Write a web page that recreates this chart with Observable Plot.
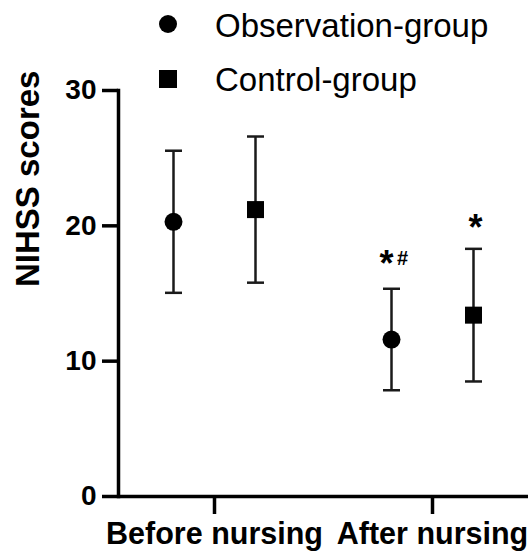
<!DOCTYPE html>
<html><head><meta charset="utf-8">
<script src="https://cdn.jsdelivr.net/npm/d3@7"></script>
<script src="https://cdn.jsdelivr.net/npm/@observablehq/plot@0.6"></script>
<style>
html,body{margin:0;padding:0;background:#fff;}
#wrap{position:relative;width:531px;height:554px;font-family:"Liberation Sans",Arial,sans-serif;}
#legend{position:absolute;left:0;top:0;pointer-events:none;}
</style></head><body>
<div id="wrap"><div id="chart"></div><svg id="legend" width="531" height="100"></svg></div>
<script>
const categories = ["Before nursing", "After nursing"];
const groups = ["Observation-group", "Control-group"];
const groupSymbols = ["circle", "square"];
const obsMean = [20.3, 11.6];
const obsSD = [5.25, 3.75];
const ctrlMean = [21.2, 13.4];
const ctrlSD = [5.4, 4.9];
const obsStar = ["", "*"];
const obsHash = ["", "#"];
const ctrlStar = ["", "*"];
const yTicks = [0, 10, 20, 30];
const yLabel = "NIHSS scores";

function rows(means, sds, group, stars, hashes) {
  return categories.map((c, i) => ({
    category: c, group, mean: means[i],
    lo: means[i] - sds[i], hi: means[i] + sds[i],
    star: stars[i], hash: hashes ? hashes[i] : ""
  }));
}
const obs = rows(obsMean, obsSD, groups[0], obsStar, obsHash);
const ctrl = rows(ctrlMean, ctrlSD, groups[1], ctrlStar, null);

const cap = {draw(ctx, size) { const r = Math.sqrt(size / Math.PI); ctx.moveTo(-r, 0); ctx.lineTo(r, 0); }};
const ink = "#000";

function groupMarks(data, dx, symbol, r) {
  return [
    Plot.ruleX(data, {x: "category", y1: "lo", y2: "hi", dx, stroke: "#1a1a1a", strokeWidth: 2.5}),
    Plot.dot(data, {x: "category", y: "hi", dx, symbol: cap, r: 8.5, fill: "none", stroke: "#1a1a1a", strokeWidth: 2.5}),
    Plot.dot(data, {x: "category", y: "lo", dx, symbol: cap, r: 8.5, fill: "none", stroke: "#1a1a1a", strokeWidth: 2.5}),
    Plot.dot(data, {x: "category", y: "mean", dx, symbol, r, fill: ink, stroke: "none"})
  ];
}

const chart = Plot.plot({
  width: 531, height: 554,
  marginTop: 90, marginBottom: 58, marginLeft: 118, marginRight: 3,
  style: {fontFamily: "'Liberation Sans', Arial, sans-serif", color: ink, background: "#fff", overflow: "visible"},
  x: {type: "point", domain: categories, padding: 0.44},
  y: {domain: [0, 30]},
  marks: [
    Plot.frame({anchor: "left", stroke: ink, strokeWidth: 3.5}),
    Plot.ruleY([0], {stroke: ink, strokeWidth: 3.5}),
    Plot.axisY({ticks: yTicks, tickSize: 16, tickPadding: 6, fontSize: 28, fontWeight: "bold", stroke: ink, strokeWidth: 3.5, label: null}),
    Plot.axisX({tickSize: 18, tickPadding: 8, fontSize: 30.5, fontWeight: "bold", stroke: ink, strokeWidth: 3.5, label: null}),
    Plot.text([yLabel], {frameAnchor: "left", rotate: -90, dx: -90, dy: -6.5, fontSize: 33, fontWeight: "bold", lineAnchor: "middle", fill: ink}),
    ...groupMarks(obs, -41, groupSymbols[0], 9),
    ...groupMarks(ctrl, 41, groupSymbols[1], 9.6),
    Plot.text(obs, {x: "category", y: "hi", text: "star", dx: -46, dy: -24, fontSize: 36, fontWeight: "bold", lineAnchor: "middle", fill: ink}),
    Plot.text(obs, {x: "category", y: "hi", text: "hash", dx: -30, dy: -30, fontSize: 20, fontWeight: "bold", lineAnchor: "middle", fill: ink}),
    Plot.text(ctrl, {x: "category", y: "hi", text: "star", dx: 43, dy: -20, fontSize: 36, fontWeight: "bold", lineAnchor: "middle", fill: ink})
  ]
});
document.getElementById("chart").appendChild(chart);

// legend
const lg = d3.select("#legend");
const legendRows = [{cy: 24, base: 37}, {cy: 79, base: 91}];
groups.forEach((g, i) => {
  const row = legendRows[i];
  const sym = d3.symbol(groupSymbols[i] === "circle" ? d3.symbolCircle : d3.symbolSquare,
    groupSymbols[i] === "circle" ? Math.PI * 81 : 18 * 18);
  lg.append("path").attr("d", sym()).attr("transform", `translate(168,${row.cy})`).attr("fill", ink);
  lg.append("text").attr("x", 215).attr("y", row.base).attr("font-size", 33)
    .attr("font-family", "'Liberation Sans', Arial, sans-serif").attr("fill", ink).text(g);
});
</script>
</body></html>
